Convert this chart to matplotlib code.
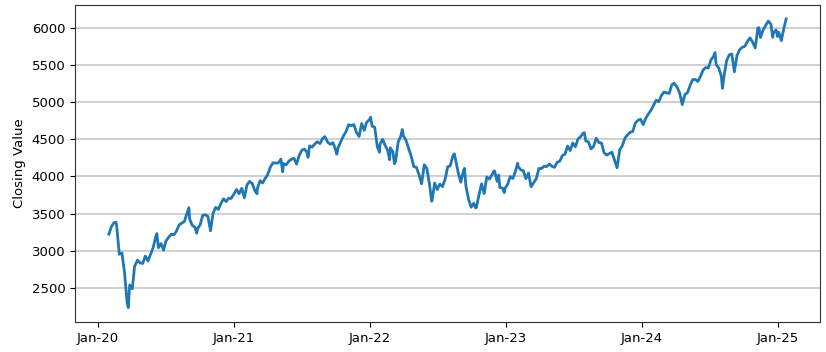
import matplotlib
matplotlib.use("Agg")
import matplotlib.pyplot as plt
import matplotlib.dates as mdates
import pandas as pd

dates_2020 = ["2020-01-31","2020-02-07","2020-02-14","2020-02-19","2020-02-21","2020-02-28","2020-03-06",
              "2020-03-13","2020-03-20","2020-03-23","2020-03-27","2020-04-03","2020-04-09","2020-04-17",
              "2020-04-24","2020-05-01","2020-05-08","2020-05-15","2020-05-22","2020-05-29","2020-06-05",
              "2020-06-08","2020-06-12","2020-06-19","2020-06-26","2020-07-02","2020-07-10","2020-07-17",
              "2020-07-24","2020-07-31","2020-08-07","2020-08-14","2020-08-21","2020-08-28","2020-09-02",
              "2020-09-04","2020-09-11","2020-09-18","2020-09-23","2020-09-25","2020-10-02","2020-10-09",
              "2020-10-16","2020-10-23","2020-10-30","2020-11-06","2020-11-13","2020-11-20","2020-11-27",
              "2020-12-04","2020-12-11","2020-12-18","2020-12-24","2020-12-31"]
close_2020 = [3225,3328,3380,3386,3338,2954,2972,
              2711,2305,2237,2541,2489,2790,2875,
              2837,2831,2930,2864,2955,3044,3194,
              3232,3041,3098,3009,3130,3185,3225,
              3216,3271,3351,3373,3397,3508,3580,
              3427,3341,3319,3237,3298,3348,3477,
              3484,3465,3270,3510,3585,3557,3638,
              3699,3663,3709,3703,3756]

dates_2021 = ["2021-01-08","2021-01-15","2021-01-22","2021-01-29","2021-02-05","2021-02-12","2021-02-19",
              "2021-02-26","2021-03-04","2021-03-05","2021-03-12","2021-03-19","2021-03-26","2021-04-01",
              "2021-04-09","2021-04-16","2021-04-23","2021-04-30","2021-05-07","2021-05-12","2021-05-14",
              "2021-05-21","2021-05-28","2021-06-04","2021-06-11","2021-06-18","2021-06-25","2021-07-02",
              "2021-07-09","2021-07-16","2021-07-19","2021-07-23","2021-07-30","2021-08-06","2021-08-13",
              "2021-08-20","2021-08-27","2021-09-02","2021-09-10","2021-09-17","2021-09-24","2021-10-01",
              "2021-10-04","2021-10-08","2021-10-15","2021-10-22","2021-10-29","2021-11-05","2021-11-12",
              "2021-11-19","2021-11-26","2021-12-03","2021-12-10","2021-12-17","2021-12-23","2021-12-31"]
close_2021 = [3825,3768,3841,3714,3887,3934,3907,
              3811,3768,3842,3943,3913,3975,4020,
              4129,4185,4180,4181,4233,4063,4174,
              4156,4204,4230,4247,4166,4281,4352,
              4370,4327,4258,4412,4395,4437,4468,
              4442,4509,4537,4459,4433,4455,4357,
              4300,4391,4471,4545,4605,4697,4683,
              4698,4595,4538,4712,4620,4726,4766]

dates_2022 = ["2022-01-03","2022-01-07","2022-01-14","2022-01-21","2022-01-27","2022-01-28","2022-02-04",
              "2022-02-11","2022-02-18","2022-02-23","2022-02-25","2022-03-04","2022-03-08","2022-03-11",
              "2022-03-18","2022-03-25","2022-03-29","2022-04-01","2022-04-08","2022-04-14","2022-04-22",
              "2022-04-29","2022-05-06","2022-05-13","2022-05-20","2022-05-27","2022-06-03","2022-06-10",
              "2022-06-16","2022-06-17","2022-06-24","2022-07-01","2022-07-08","2022-07-15","2022-07-22",
              "2022-07-29","2022-08-05","2022-08-12","2022-08-16","2022-08-19","2022-08-26","2022-09-02",
              "2022-09-09","2022-09-12","2022-09-16","2022-09-23","2022-09-30","2022-10-07","2022-10-12",
              "2022-10-14","2022-10-21","2022-10-28","2022-11-04","2022-11-11","2022-11-18","2022-11-25",
              "2022-12-01","2022-12-02","2022-12-09","2022-12-13","2022-12-16","2022-12-23","2022-12-28",
              "2022-12-30"]
close_2022 = [4797,4677,4663,4398,4326,4432,4501,
              4419,4349,4226,4385,4329,4171,4204,
              4463,4543,4632,4546,4488,4393,4272,
              4132,4123,4024,3901,4158,4109,3901,
              3667,3675,3912,3825,3899,3863,3962,
              4130,4145,4280,4305,4228,4058,3924,
              4067,4110,3873,3693,3586,3640,3577,
              3583,3752,3901,3771,3993,3965,4026,
              4076,4072,3934,4019,3852,3845,3783,
              3840]

dates_2023 = ["2023-01-06","2023-01-13","2023-01-20","2023-01-27","2023-02-02","2023-02-03","2023-02-10",
              "2023-02-17","2023-02-24","2023-03-03","2023-03-10","2023-03-17","2023-03-24","2023-03-31",
              "2023-04-06","2023-04-14","2023-04-21","2023-04-28","2023-05-05","2023-05-12","2023-05-19",
              "2023-05-26","2023-06-02","2023-06-09","2023-06-16","2023-06-23","2023-06-30","2023-07-07",
              "2023-07-14","2023-07-21","2023-07-28","2023-07-31","2023-08-04","2023-08-11","2023-08-18",
              "2023-08-25","2023-09-01","2023-09-08","2023-09-15","2023-09-22","2023-09-29","2023-10-06",
              "2023-10-13","2023-10-20","2023-10-27","2023-11-03","2023-11-10","2023-11-17","2023-11-24",
              "2023-12-01","2023-12-08","2023-12-15","2023-12-22","2023-12-29"]
close_2023 = [3895,3999,3973,4071,4179,4136,4090,
              4079,3970,4046,3862,3917,3971,4109,
              4105,4138,4133,4169,4136,4124,4192,
              4205,4282,4299,4410,4348,4450,4399,
              4505,4536,4582,4589,4478,4464,4370,
              4406,4515,4457,4450,4320,4288,4308,
              4327,4224,4117,4358,4415,4514,4559,
              4595,4604,4719,4755,4770]

dates_2024 = ["2024-01-05","2024-01-12","2024-01-19","2024-01-26","2024-02-02","2024-02-09","2024-02-16",
              "2024-02-23","2024-03-01","2024-03-08","2024-03-15","2024-03-22","2024-03-28","2024-04-05",
              "2024-04-12","2024-04-19","2024-04-26","2024-05-03","2024-05-10","2024-05-17","2024-05-24",
              "2024-05-31","2024-06-07","2024-06-14","2024-06-21","2024-06-28","2024-07-05","2024-07-12",
              "2024-07-16","2024-07-19","2024-07-26","2024-08-02","2024-08-05","2024-08-09","2024-08-16",
              "2024-08-23","2024-08-30","2024-09-06","2024-09-13","2024-09-20","2024-09-27","2024-10-04",
              "2024-10-11","2024-10-18","2024-10-25","2024-11-01","2024-11-08","2024-11-11","2024-11-15",
              "2024-11-22","2024-11-29","2024-12-06","2024-12-13","2024-12-18","2024-12-20","2024-12-27",
              "2024-12-31"]
close_2024 = [4697,4784,4840,4891,4959,5027,5006,
              5089,5137,5124,5117,5234,5254,5204,
              5123,4967,5100,5128,5223,5303,5305,
              5278,5347,5432,5465,5460,5567,5615,
              5667,5505,5459,5346,5186,5344,5554,
              5635,5648,5408,5626,5703,5738,5751,
              5815,5864,5808,5729,5996,6001,5870,
              5969,6032,6090,6051,5872,5931,5971,
              5882]

dates_2025 = ["2025-01-03","2025-01-10","2025-01-17","2025-01-23"]
close_2025 = [5942,5827,5997,6119]

dates = pd.to_datetime(dates_2020 + dates_2021 + dates_2022 + dates_2023 + dates_2024 + dates_2025)
closing = close_2020 + close_2021 + close_2022 + close_2023 + close_2024 + close_2025

fig = plt.figure(figsize=(8.26, 3.52), dpi=100)
ax = fig.add_axes([75/826, 30/352, 745/826, 317.5/352])
ax.plot(dates, closing, color="#1f77b4", linewidth=2)
ax.xaxis.set_major_locator(mdates.YearLocator())
ax.xaxis.set_major_formatter(mdates.DateFormatter("%b-%y"))
ax.set_yticks([2500, 3000, 3500, 4000, 4500, 5000, 5500, 6000])
ax.grid(axis="y", color="#c8c8c8", linewidth=1.2)
ax.set_axisbelow(True)
ax.tick_params(labelsize=9.5)
ax.set_ylabel("Closing Value", fontsize=9.5)
for s in ax.spines.values():
    s.set_color("#333333")
fig.savefig("out.png", dpi=100)
